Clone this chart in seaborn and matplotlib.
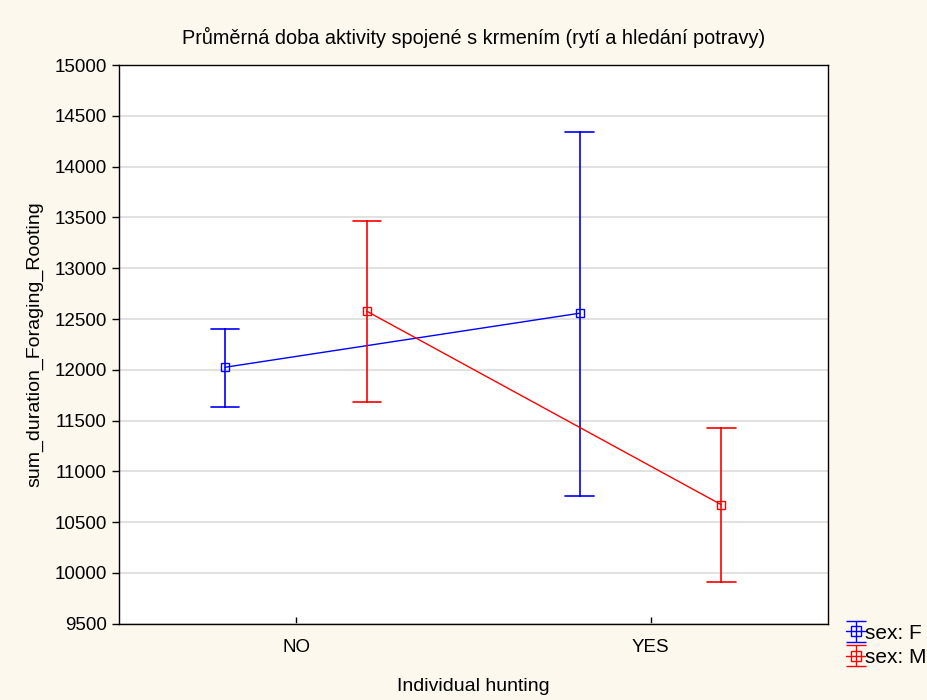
import pandas as pd
import numpy as np
import seaborn as sns
import matplotlib.pyplot as plt

# values (mean with lower / upper interval limit)
hunting = ['NO', 'YES']
sex_levels = ['F', 'M']
mean_f = [12025, 12557]
low_f = [11632, 10756]
high_f = [12400, 14341]
mean_m = [12576, 10671]
low_m = [11684, 9907]
high_m = [13465, 11422]

# three rows per group: median = mean, min/max = interval
rows = []
for sex, means, lows, highs in [('F', mean_f, low_f, high_f), ('M', mean_m, low_m, high_m)]:
    for h, m, lo, hi in zip(hunting, means, lows, highs):
        for v in (lo, m, hi):
            rows.append({'hunting': h, 'sex': sex, 'value': v})
df = pd.DataFrame(rows)

sns.set_theme(style='white', rc={'text.color': 'black', 'axes.labelcolor': 'black'})
plt.rcParams['font.family'] = ['Liberation Sans', 'DejaVu Sans']
palette = {'F': '#0000ff', 'M': '#ff0000'}

fig, ax = plt.subplots(figsize=(9.28, 7.0), dpi=100)
fig.patch.set_facecolor('#fdf8ee')
ax.set_facecolor('white')
fig.subplots_adjust(left=0.128, right=0.892, bottom=0.109, top=0.907)

sns.pointplot(data=df, x='hunting', y='value', hue='sex', order=hunting, hue_order=sex_levels,
              estimator='median', errorbar=('pi', 100), dodge=0.4, palette=palette,
              markers='s', capsize=0.08, linewidth=1.0, markersize=6, err_kws={'linewidth': 1.2},
              ax=ax)
for line in ax.lines:
    line.set_markerfacecolor('none')
    line.set_markeredgewidth(1.0)

if ax.get_legend() is not None:
    ax.get_legend().remove()

ax.set_xlim(-0.5, 1.5)
ax.set_ylim(9500, 15000)
ax.set_yticks(np.arange(9500, 15001, 500))
ax.yaxis.grid(True, color='#dcdcdc', linewidth=1.2)
ax.set_axisbelow(True)
for sp in ax.spines.values():
    sp.set_visible(True)
    sp.set_color('black')
    sp.set_linewidth(1.0)
ax.tick_params(axis='y', direction='out', length=5, width=1, color='black', labelsize=13.5, labelcolor='black')
ax.tick_params(axis='x', direction='in', length=5, width=1, color='black', labelsize=13.5, labelcolor='black', pad=11)
ax.tick_params(left=True, bottom=True)

ax.set_xlabel('Individual hunting', fontsize=14, labelpad=16)
ax.set_ylabel('sum_duration_Foraging_Rooting', fontsize=14, labelpad=8)
ax.set_title('Průměrná doba aktivity spojené s krmením (rytí a hledání potravy)', fontsize=14.3, pad=15)

# legend handles in errorbar style
handles = []
for sex in sex_levels:
    h = ax.errorbar([np.nan], [np.nan], yerr=[1], color=palette[sex], marker='s', mfc='none',
                    markersize=7, capsize=7, linewidth=1.0)
    handles.append(h)
fig.legend(handles, ['sex: F', 'sex: M'], loc='upper left', bbox_to_anchor=(0.912, 0.109),
           frameon=False, fontsize=15, handlelength=0.9, handletextpad=0.0, labelspacing=0.25,
           borderaxespad=0, borderpad=0)

fig.savefig('out.png', dpi=100, facecolor=fig.get_facecolor())
